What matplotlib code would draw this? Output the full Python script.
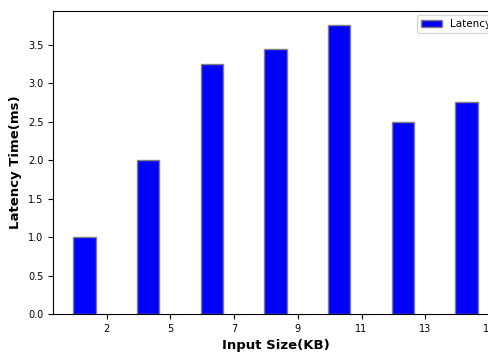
import numpy as np
import matplotlib
matplotlib.use('Agg')
import matplotlib.pyplot as plt

# DATA
input_sizes = ['2', '5', '7', '9', '11', '13', '15']
latency = [1.0, 2.0, 3.25, 3.45, 3.75, 2.5, 2.75]

bar_width = 0.35
index = np.arange(len(latency))

fig = plt.figure(figsize=(4.88, 3.52), dpi=100)
# axes runs a bit past the right edge of the canvas (the reference is cropped)
ax = fig.add_axes([53 / 488, 38 / 352, 445 / 488, 303 / 352])

ax.bar(index, latency, bar_width, color='blue', edgecolor='grey',
       linewidth=1, label='Latency Time')

ax.set_xticks(index + bar_width)
ax.set_xticklabels(input_sizes)
ax.tick_params(labelsize=7)

ax.set_xlabel('Input Size(KB)', fontweight='bold', fontsize=9.5)
ax.set_ylabel('Latency Time(ms)', fontweight='bold', fontsize=9.5)

ax.legend(loc='upper left', bbox_to_anchor=(417 / 488, 1 - 15 / 352),
          bbox_transform=fig.transFigure, fontsize=7.5, borderaxespad=0)

fig.savefig('out.png', dpi=100)
